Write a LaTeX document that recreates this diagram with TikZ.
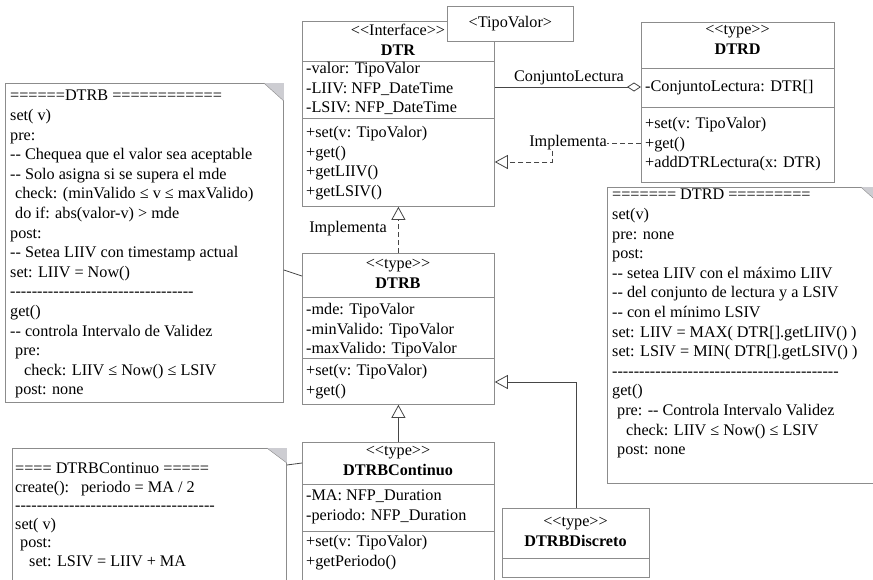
\documentclass[tikz,border=0pt]{standalone}
\usepackage{fontspec}
\newfontfamily\umlfont{Liberation Serif}
\usetikzlibrary{arrows.meta}
\definecolor{boxgray}{RGB}{140,140,140}
\definecolor{foldgray}{RGB}{205,205,210}
\definecolor{linegray}{RGB}{70,70,70}

\begin{document}
\begin{tikzpicture}[x=1pt,y=-1pt,
    font=\umlfont\fontsize{16.2}{19.6}\selectfont,
    classbox/.style={draw=boxgray, fill=white, line width=0.8pt, anchor=north west, inner sep=0pt},
    notebox/.style={draw=boxgray, fill=white, line width=0.8pt, anchor=north west, inner sep=0pt},
    sepline/.style={draw=boxgray, line width=0.8pt},
    txt/.style={inner sep=0pt, align=left, anchor=north west},
    head/.style={inner sep=0pt, align=center, anchor=north},
    link/.style={draw=linegray, line width=0.8pt},
    realize/.style={link, dash pattern=on 5pt off 3pt, -{Triangle[open, length=13pt, width=14pt, fill=white]}},
    inherit/.style={link, -{Triangle[open, length=13pt, width=14pt, fill=white]}},
    aggr/.style={link, -{Diamond[open, length=14pt, width=9pt, fill=white]}}]
    \clip (0,0) rectangle (873,579);

    \node[classbox, minimum width=192pt, minimum height=185pt] (dtr) at (302,21) {};
    \draw[sepline] (dtr.west |- 0,61) -- (dtr.east |- 0,61);
    \draw[sepline] (dtr.west |- 0,118) -- (dtr.east |- 0,118);
    \node[head] (dtrhead) at (398,24) {<<Interface>>\\\textbf{DTR}};
    \node[txt] (dtratt) at (306,62) {-valor: TipoValor\\-LIIV: NFP\_DateTime\\-LSIV: NFP\_DateTime};
    \node[txt] (dtrops) at (306,126) {+set(v: TipoValor)\\+get()\\+getLIIV()\\+getLSIV()};
    \node[classbox, minimum width=126pt, minimum height=35pt] (tipo) at (447,6) {};
    \node (tipotxt) at (tipo.center) {<TipoValor>};

    \node[classbox, minimum width=193pt, minimum height=160pt] (dtrd) at (641,22) {};
    \draw[sepline] (dtrd.west |- 0,68) -- (dtrd.east |- 0,68);
    \draw[sepline] (dtrd.west |- 0,107) -- (dtrd.east |- 0,107);
    \node[head] (dtrdhead) at (737.5,25) {<<type>>\\\textbf{DTRD}};
    \node[txt] (dtrdatt) at (645,80) {-ConjuntoLectura: DTR[]};
    \node[txt] (dtrdops) at (645,117) {+set(v: TipoValor)\\+get()\\+addDTRLectura(x: DTR)};

    \node[classbox, minimum width=192pt, minimum height=151pt] (dtrb) at (302,253) {};
    \draw[sepline] (dtrb.west |- 0,297) -- (dtrb.east |- 0,297);
    \draw[sepline] (dtrb.west |- 0,358) -- (dtrb.east |- 0,358);
    \node[head] (dtrbhead) at (398,259) {<<type>>\\\textbf{DTRB}};
    \node[txt] (dtrbatt) at (306,303) {-mde: TipoValor\\-minValido: TipoValor\\-maxValido: TipoValor};
    \node[txt] (dtrbops) at (306,364) {+set(v: TipoValor)\\+get()};

    \node[classbox, minimum width=192pt, minimum height=150pt] (dtrbc) at (302,442) {};
    \draw[sepline] (dtrbc.west |- 0,484) -- (dtrbc.east |- 0,484);
    \draw[sepline] (dtrbc.west |- 0,531) -- (dtrbc.east |- 0,531);
    \node[head] (dtrbchead) at (398,446) {<<type>>\\\textbf{DTRBContinuo}};
    \node[txt] (dtrbcatt) at (306,490) {-MA: NFP\_Duration\\-periodo: NFP\_Duration};
    \node[txt] (dtrbcops) at (306,535) {+set(v: TipoValor)\\+getPeriodo()};

    \node[classbox, minimum width=147pt, minimum height=69pt] (dtrbd) at (502,508) {};
    \draw[sepline] (dtrbd.west |- 0,558) -- (dtrbd.east |- 0,558);
    \node[head] (dtrbdhead) at (575.5,517) {<<type>>\\\textbf{DTRBDiscreto}};

    \node[notebox, minimum width=278pt, minimum height=319pt] (noteb) at (5,83) {};
    \fill[foldgray] (noteb.north east) -- ++(-20,0) -- ++(20,18) -- cycle;
    \draw[boxgray] (noteb.north east) ++(-20,0) -- ++(20,18);
    \node[txt] (notebtxt) at (10,90) {======DTRB ============\\
        set( v)\\
        pre:\\
        -- Chequea que el valor sea aceptable\\
        -- Solo asigna si se supera el mde\\
        \hspace*{5pt}check: (minValido ≤ v ≤ maxValido)\\
        \hspace*{5pt}do if: abs(valor-v) > mde\\
        post:\\
        -- Setea LIIV con timestamp actual\\
        set: LIIV = Now()\\
        ----------------------------------\\
        get()\\
        -- controla Intervalo de Validez\\
        \hspace*{5pt}pre:\\
        \hspace*{14pt}check: LIIV ≤ Now() ≤ LSIV\\
        \hspace*{5pt}post: none};

    \node[notebox, minimum width=273pt, minimum height=296pt] (noted) at (607,187) {};
    \fill[foldgray] (noted.north east) -- ++(-20,0) -- ++(20,18) -- cycle;
    \draw[boxgray] (noted.north east) ++(-20,0) -- ++(20,18);
    \node[txt] (notedtxt) at (612,189) {======= DTRD =========\\
        set(v)\\
        pre: none\\
        post:\\
        -- setea LIIV con el máximo LIIV\\
        -- del conjunto de lectura y a LSIV\\
        -- con el mínimo LSIV\\
        set: LIIV = MAX( DTR[].getLIIV() )\\
        set: LSIV = MIN( DTR[].getLSIV() )\\
        ------------------------------------------\\
        get()\\
        \hspace*{5pt}pre: -- Controla Intervalo Validez\\
        \hspace*{14pt}check: LIIV ≤ Now() ≤ LSIV\\
        \hspace*{5pt}post: none};

    \node[notebox, minimum width=274pt, minimum height=150pt] (notec) at (12,448) {};
    \fill[foldgray] (notec.north east) -- ++(-20,0) -- ++(20,15) -- cycle;
    \draw[boxgray] (notec.north east) ++(-20,0) -- ++(20,15);
    \node[txt, font=\umlfont\fontsize{16.2}{18.5}\selectfont] (notectxt) at (15,463) {==== DTRBContinuo =====\\
        create():\hspace*{12pt}periodo = MA / 2\\
        -------------------------------------\\
        set( v)\\
        \hspace*{5pt}post:\\
        \hspace*{14pt}set: LSIV = LIIV + MA};

    \draw[aggr] (dtr.east |- 0,87) -- (dtrd.west |- 0,87);
    \node (conj) at (569,78) {ConjuntoLectura};
    \node[inner sep=0pt] (impl2) at (568,143) {Implementa};
    \draw[link, dash pattern=on 5pt off 3pt] (dtrd.west |- impl2.east) -- (impl2.east);
    \draw[realize] (impl2.south -| 552,0) |- (dtr.east |- 0,162);
    \draw[realize] (dtrb.north) -- (dtr.south);
    \node (impl1) at (348,229) {Implementa};
    \draw[inherit] (dtrbc.north) -- (dtrb.south);
    \draw[inherit] (dtrbd.north) |- (dtrb.east |- 0,382);
    \draw[link] (noteb.east |- 0,270) -- (dtrb.west |- 0,276);
    \draw[link] (notec.north east) ++(0,17) -- (dtrbc.west |- 0,463);
\end{tikzpicture}
\end{document}
